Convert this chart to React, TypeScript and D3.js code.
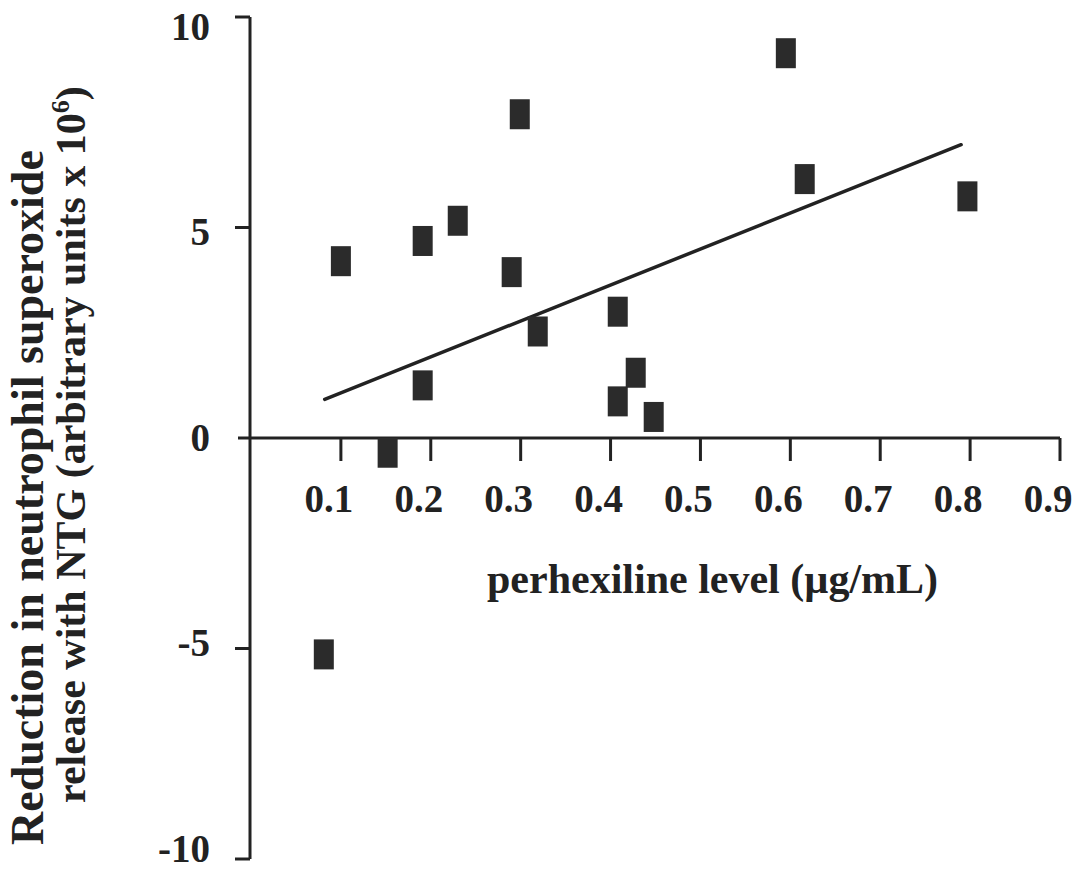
import React from "react";
import * as d3 from "d3";

// Perhexiline plasma level (µg/mL) per patient
const perhexiline: number[] = [
  0.081, 0.1, 0.152, 0.191, 0.191, 0.23, 0.29, 0.299,
  0.319, 0.408, 0.408, 0.428, 0.448, 0.595, 0.616, 0.797,
];
// Reduction in neutrophil superoxide release with NTG (arbitrary units x 10^6)
const superoxideReduction: number[] = [
  -5.14, 4.2, -0.35, 4.68, 1.25, 5.16, 3.94, 7.69,
  2.53, 3.0, 0.87, 1.55, 0.5, 9.14, 6.15, 5.74,
];

const xTicks: number[] = [0.1, 0.2, 0.3, 0.4, 0.5, 0.6, 0.7, 0.8, 0.9];
const yTicks: number[] = [10, 5, 0, -5, -10];
// x-range covered by the fitted line
const fitRange: [number, number] = [0.082, 0.79];

const W = 1079;
const H = 870;
const INK = "#222";
const FONT = "'Liberation Serif', 'Times New Roman', serif";

export default function App() {
  const x = d3.scaleLinear().domain([0, 0.9]).range([251, 1060]);
  const y = d3.scaleLinear().domain([-10, 10]).range([859, 17]);
  // tick labels sit slightly toward the middle of the axis
  const yLabel = d3.scaleLinear().domain([-10, 10]).range([848, 26]);

  // least-squares fit
  const mx = d3.mean(perhexiline)!;
  const my = d3.mean(superoxideReduction)!;
  let sxy = 0;
  let sxx = 0;
  perhexiline.forEach((xv, i) => {
    sxy += (xv - mx) * (superoxideReduction[i] - my);
    sxx += (xv - mx) * (xv - mx);
  });
  const slope = sxy / sxx;
  const intercept = my - slope * mx;
  const fitLine = d3
    .line<number>()
    .x((d) => x(d))
    .y((d) => y(intercept + slope * d));

  const markW = 20;
  const markH = 30;
  const axisX = 250;
  const axisY = y(0);

  return (
    <svg
      width={W}
      height={H}
      style={{ position: "absolute", left: 0, top: 0, background: "#fff" }}
      fontFamily={FONT}
      fontWeight="bold"
    >
      {/* y axis */}
      <line x1={axisX} x2={axisX} y1={y(10)} y2={y(-10)} stroke={INK} strokeWidth={3} />
      {yTicks
        .filter((t) => t !== 0)
        .map((t) => (
          <line key={"yt" + t} x1={axisX - 15} x2={axisX} y1={y(t)} y2={y(t)} stroke={INK} strokeWidth={3} />
        ))}
      {yTicks.map((t) => (
        <text
          key={"yl" + t}
          x={210}
          y={yLabel(t)}
          textAnchor="end"
          dominantBaseline="central"
          fontSize={39}
          fill={INK}
        >
          {t}
        </text>
      ))}

      {/* x axis */}
      <line x1={238} x2={x(0.9)} y1={axisY} y2={axisY} stroke={INK} strokeWidth={3} />
      {xTicks.map((t) => (
        <line key={"xt" + t} x1={x(t)} x2={x(t)} y1={axisY} y2={axisY + 23} stroke={INK} strokeWidth={3} />
      ))}
      {xTicks.map((t) => (
        <text key={"xl" + t} x={x(t) - 12} y={512} textAnchor="middle" fontSize={39} fill={INK}>
          {t.toFixed(1)}
        </text>
      ))}

      {/* axis titles */}
      <text x={487} y={593} fontSize={42} fill={INK}>
        perhexiline level (µg/mL)
      </text>
      <text transform="translate(43,845) rotate(-90)" fontSize={46} fill={INK}>
        Reduction in neutrophil superoxide
      </text>
      <text transform="translate(85,803) rotate(-90)" fontSize={42} fill={INK}>
        release with NTG (arbitrary units x 10
        <tspan dy={-16} fontSize={26}>6</tspan>
        <tspan dy={16}>)</tspan>
      </text>

      {/* fitted line */}
      <path d={fitLine(fitRange) ?? ""} fill="none" stroke={INK} strokeWidth={3.5} strokeLinecap="round" />

      {/* data points */}
      {perhexiline.map((xv, i) => (
        <rect
          key={"p" + i}
          x={x(xv) - markW / 2}
          y={y(superoxideReduction[i]) - markH / 2}
          width={markW}
          height={markH}
          fill="#2b2b2b"
        />
      ))}
    </svg>
  );
}
